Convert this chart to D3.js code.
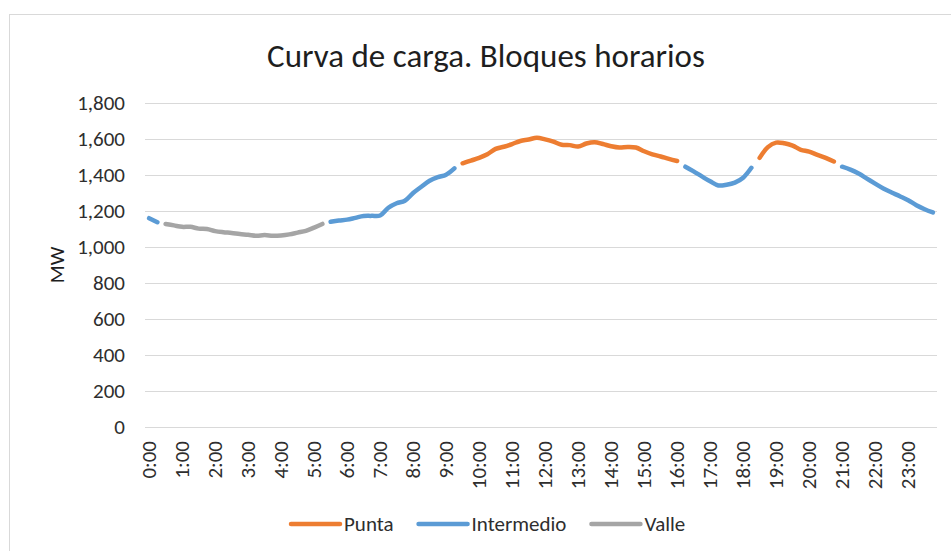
<!DOCTYPE html>
<html>
<head>
<meta charset="utf-8">
<script src="https://cdn.jsdelivr.net/npm/d3@7"></script>
<style>
  body { margin: 0; background: #fff; }
  svg { display: block; font-family: Calibri, Carlito, Lato, sans-serif; }
</style>
</head>
<body>
<svg width="951" height="551"></svg>
<script>
// 15-minute categories
var times = [
  "0:00","0:15","0:30","0:45","1:00","1:15","1:30","1:45","2:00","2:15","2:30","2:45",
  "3:00","3:15","3:30","3:45","4:00","4:15","4:30","4:45","5:00","5:15","5:30","5:45",
  "6:00","6:15","6:30","6:45","7:00","7:15","7:30","7:45","8:00","8:15","8:30","8:45",
  "9:00","9:15","9:30","9:45","10:00","10:15","10:30","10:45","11:00","11:15","11:30","11:45",
  "12:00","12:15","12:30","12:45","13:00","13:15","13:30","13:45","14:00","14:15","14:30","14:45",
  "15:00","15:15","15:30","15:45","16:00","16:15","16:30","16:45","17:00","17:15","17:30","17:45",
  "18:00","18:15","18:30","18:45","19:00","19:15","19:30","19:45","20:00","20:15","20:30","20:45",
  "21:00","21:15","21:30","21:45","22:00","22:15","22:30","22:45","23:00","23:15","23:30","23:45"
];

var hourTicks = ["0:00","1:00","2:00","3:00","4:00","5:00","6:00","7:00","8:00","9:00","10:00","11:00",
  "12:00","13:00","14:00","15:00","16:00","17:00","18:00","19:00","20:00","21:00","22:00","23:00"];

var yTicks = [0, 200, 400, 600, 800, 1000, 1200, 1400, 1600, 1800];

// MW per block, null outside the block
var punta = [
  null,null,null,null,null,null,null,null,null,null,null,null,
  null,null,null,null,null,null,null,null,null,null,null,null,
  null,null,null,null,null,null,null,null,null,null,null,null,
  null,null,1465,1480,1495,1515,1545,1557,1572,1589,1597,1607,
  1598,1585,1568,1566,1558,1575,1582,1572,1560,1553,1556,1553,
  1532,1515,1503,1490,1478,null,null,null,null,null,null,null,
  null,null,1495,1555,1580,1576,1563,1540,1530,1512,1495,1475,
  null,null,null,null,null,null,null,null,null,null,null,null
];
var intermedio = [
  1160,1138,null,null,null,null,null,null,null,null,null,null,
  null,null,null,null,null,null,null,null,null,null,1140,1147,
  1152,1162,1172,1173,1175,1218,1243,1257,1300,1335,1368,1388,
  1402,1437,null,null,null,null,null,null,null,null,null,null,
  null,null,null,null,null,null,null,null,null,null,null,null,
  null,null,null,null,null,1446,1420,1392,1365,1342,1346,1358,
  1385,1440,null,null,null,null,null,null,null,null,null,null,
  1446,1430,1408,1380,1352,1325,1303,1282,1260,1232,1210,1192
];
var valle = [
  null,null,1128,1120,1112,1112,1102,1100,1088,1082,1078,1072,
  1068,1062,1066,1062,1064,1070,1080,1090,1108,1128,null,null,
  null,null,null,null,null,null,null,null,null,null,null,null,
  null,null,null,null,null,null,null,null,null,null,null,null,
  null,null,null,null,null,null,null,null,null,null,null,null,
  null,null,null,null,null,null,null,null,null,null,null,null,
  null,null,null,null,null,null,null,null,null,null,null,null,
  null,null,null,null,null,null,null,null,null,null,null,null
];

var series = [
  {name: "Punta", values: punta, color: "#ED7D31"},
  {name: "Intermedio", values: intermedio, color: "#5B9BD5"},
  {name: "Valle", values: valle, color: "#A5A5A5"}
];

var plot = {left: 145, right: 937, top: 103, bottom: 427};
var textColor = "#2e2e2e";
var fs = "21px";

var svg = d3.select("svg");

// chart border
svg.append("rect")
  .attr("x", 9.5).attr("y", 14.5)
  .attr("width", 960).attr("height", 560)
  .attr("fill", "none").attr("stroke", "#d9d9d9");

var x = d3.scalePoint()
  .domain(times)
  .range([plot.left, plot.right])
  .padding(0.5);

var y = d3.scaleLinear()
  .domain([0, 1800])
  .range([plot.bottom, plot.top]);

// gridlines
svg.append("g")
  .selectAll("line")
  .data(yTicks)
  .enter()
  .append("line")
    .attr("x1", plot.left).attr("x2", plot.right)
    .attr("y1", d => y(d) + 0.5).attr("y2", d => y(d) + 0.5)
    .attr("stroke", "#d9d9d9").attr("stroke-width", 1);

// y axis labels
var yAxis = svg.append("g")
  .attr("transform", "translate(" + (plot.left - 6) + ",0)")
  .call(d3.axisLeft(y).tickValues(yTicks).tickSize(0).tickPadding(14).tickFormat(d3.format(",")));
yAxis.select(".domain").remove();
yAxis.selectAll("text")
  .attr("fill", textColor)
  .style("font-size", fs)
  .style("font-family", "Calibri, Carlito, Lato, sans-serif");

// x axis labels (rotated)
svg.append("g")
  .selectAll("text")
  .data(hourTicks)
  .enter()
  .append("text")
    .attr("transform", d => "translate(" + x(d) + "," + (plot.bottom + 14) + ") rotate(-90)")
    .attr("text-anchor", "end")
    .attr("dy", "0.35em")
    .attr("fill", textColor)
    .style("font-size", fs)
    .text(d => d);

// y title
svg.append("text")
  .attr("transform", "translate(" + 57 + "," + ((plot.top + plot.bottom) / 2) + ") rotate(-90)")
  .attr("text-anchor", "middle")
  .attr("dy", "0.35em")
  .attr("fill", "#1e1e1e")
  .style("font-size", fs)
  .text("MW");

// chart title
svg.append("text")
  .attr("x", 486).attr("y", 67)
  .attr("text-anchor", "middle")
  .attr("fill", "#1e1e1e")
  .style("font-size", "33px")
  .text("Curva de carga. Bloques horarios");

// lines
var line = d3.line()
  .defined(d => d.v != null)
  .x(d => x(d.t))
  .y(d => y(d.v))
  .curve(d3.curveCatmullRom.alpha(0.5));

svg.append("g")
  .selectAll("path")
  .data(series)
  .enter()
  .append("path")
    .attr("d", s => line(times.map((t, i) => ({t: t, v: s.values[i]}))))
    .attr("fill", "none")
    .attr("stroke", s => s.color)
    .attr("stroke-width", 4.5)
    .attr("stroke-linecap", "round")
    .attr("stroke-linejoin", "round");

// legend
var legend = svg.append("g").attr("transform", "translate(0,524)");
var lx = 291;
series.forEach(function(s) {
  var g = legend.append("g").attr("transform", "translate(" + lx + ",0)");
  g.append("line")
    .attr("x1", 0).attr("x2", 49)
    .attr("stroke", s.color).attr("stroke-width", 4.5)
    .attr("stroke-linecap", "round");
  var t = g.append("text")
    .attr("x", 53).attr("dy", "0.35em")
    .attr("fill", textColor)
    .style("font-size", fs)
    .text(s.name);
  lx += 53 + t.node().getComputedTextLength() + 25;
});
</script>
</body>
</html>
